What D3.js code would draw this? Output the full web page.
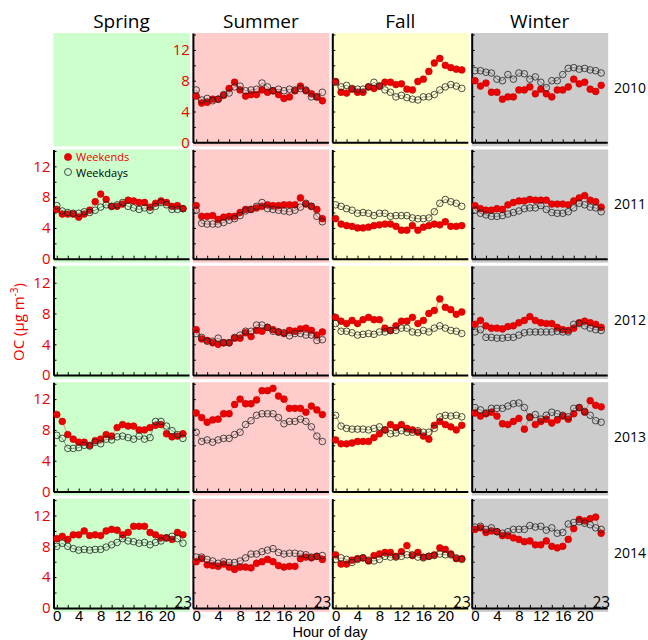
<!DOCTYPE html>
<html><head><meta charset="utf-8">
<script src="https://cdn.jsdelivr.net/npm/d3@7/dist/d3.min.js"></script>
<style>body{margin:0;background:#fff}</style>
</head><body><svg id="c" width="648" height="640"></svg>
<script>
const seasons = ["Spring","Summer","Fall","Winter"];
const years = ["2010","2011","2012","2013","2014"];
const hours = [0,1,2,3,4,5,6,7,8,9,10,11,12,13,14,15,16,17,18,19,20,21,22,23];
const yTickValues = [0,2,4,6,8,10,12,14];
const yTickLabels = [0,4,8,12];
const xTickValues = [0,2,4,6,8,10,12,14,16,18,20,22];
const xTickLabels = [0,4,8,12,16,20];
const seasonFill = ["#ccffcc","#ffcccc","#ffffcc","#cccccc"];

// 2010
const wkndSummer2010 = [6.0,5.1,5.2,5.6,5.6,6.1,7.0,7.8,6.8,6.0,6.2,6.2,6.8,6.5,6.7,6.2,5.7,5.9,6.7,7.3,6.7,6.3,5.9,5.4];
const wkdySummer2010 = [6.8,5.5,5.7,5.4,5.6,6.2,6.4,7.2,7.3,6.7,6.8,6.9,7.7,7.2,6.7,6.9,6.7,6.9,6.8,7.0,6.8,5.9,5.9,6.5];
const wkndFall2010 = [7.9,6.5,6.4,6.9,6.5,6.5,7.2,7.0,7.3,7.8,7.8,7.5,7.6,6.9,6.8,7.9,8.2,9.2,10.3,10.9,10.0,9.7,9.5,9.4];
const wkdyFall2010 = [7.8,7.2,7.4,7.0,6.9,6.9,7.2,7.8,7.3,6.8,6.5,5.9,6.1,5.8,5.6,5.5,5.9,5.9,6.2,6.8,7.2,7.5,7.3,7.0];
const wkndWinter2010 = [8.0,7.3,7.7,6.5,6.5,5.6,5.9,5.9,6.8,6.8,7.2,6.3,6.9,6.3,5.9,6.8,6.8,7.2,8.2,7.6,7.8,6.9,6.6,7.4];
const wkdyWinter2010 = [9.3,9.3,9.1,9.0,8.2,8.0,8.8,8.2,9.0,8.9,8.2,8.5,7.8,7.1,8.0,8.0,8.8,9.6,9.7,9.5,9.6,9.4,9.3,9.0];
// 2011
const wkndSpring2011 = [6.4,5.8,5.8,5.8,5.4,5.8,6.3,7.4,8.4,7.7,6.8,6.8,7.1,7.6,7.5,7.3,7.3,6.7,7.2,7.5,7.3,6.8,6.9,6.5];
const wkdySpring2011 = [6.9,6.2,6.0,5.9,5.9,6.1,6.0,6.3,6.7,7.0,6.8,7.0,7.3,6.8,6.6,6.4,6.6,6.3,6.8,7.3,7.0,6.4,6.4,6.5];
const wkndSummer2011 = [6.9,5.5,5.5,5.6,5.1,5.4,5.5,5.5,6.0,6.4,6.4,6.6,6.8,7.0,6.9,6.9,7.0,7.0,7.0,7.9,7.1,6.8,6.4,5.2];
const wkdySummer2011 = [6.3,4.6,4.5,4.5,4.5,4.7,5.0,5.2,5.6,6.2,6.4,6.8,7.3,6.5,6.4,6.3,6.2,6.1,6.3,6.7,7.2,6.8,5.5,4.8];
const wkndFall2011 = [5.2,4.5,4.3,4.2,4.0,4.0,4.1,4.3,4.4,4.5,4.5,4.2,3.7,3.7,4.3,3.7,4.1,4.3,4.5,4.4,4.8,4.2,4.2,4.3];
const wkdyFall2011 = [7.0,6.8,6.5,6.3,5.9,6.0,5.9,5.6,5.9,5.9,5.5,5.6,5.6,5.6,5.3,5.2,5.2,5.3,6.1,7.2,7.7,7.4,7.2,6.8];
const wkndWinter2011 = [6.9,6.5,6.3,6.3,6.5,6.4,7.0,7.3,7.5,7.5,7.7,7.6,7.6,7.6,7.1,7.1,7.1,7.0,7.5,7.9,8.2,7.6,7.4,6.7];
const wkdyWinter2011 = [6.3,5.9,5.7,5.5,5.5,5.6,5.8,6.0,6.2,6.5,6.6,6.6,6.9,6.4,6.0,5.9,5.9,6.1,6.6,7.2,7.0,6.7,6.6,6.1];
// 2012
const wkndSummer2012 = [5.9,4.7,4.5,4.2,4.0,4.2,4.2,4.8,4.8,5.5,5.0,5.8,5.7,6.2,5.9,5.6,5.4,5.8,5.7,6.0,6.1,5.8,5.2,5.6];
const wkdySummer2012 = [5.4,4.9,4.4,4.4,4.8,4.2,4.2,4.9,5.2,5.7,5.7,6.5,6.5,6.2,5.7,5.6,5.5,5.1,5.4,5.4,5.2,5.2,4.5,4.6];
const wkndFall2012 = [7.5,7.0,6.7,7.1,6.7,7.2,7.5,7.2,7.2,6.1,5.8,6.4,7.0,7.0,7.5,6.7,7.1,8.0,8.4,9.9,8.8,8.5,7.9,8.2];
const wkdyFall2012 = [6.7,5.7,5.7,5.5,5.2,5.3,5.4,5.3,5.6,5.6,5.8,5.8,6.1,6.1,5.6,5.5,5.8,5.6,6.1,6.4,6.1,5.8,5.7,5.4];
const wkndWinter2012 = [6.6,7.1,6.4,6.1,6.1,6.0,6.3,6.4,6.8,7.1,7.6,7.1,6.8,6.7,6.7,6.2,5.9,5.8,6.1,6.8,7.0,6.8,6.6,6.2];
const wkdyWinter2012 = [5.6,5.9,4.9,4.9,4.8,4.8,4.9,4.9,5.2,5.5,5.6,5.6,5.6,5.6,5.6,5.7,5.6,5.6,6.6,6.7,6.4,6.1,5.9,5.8];
// 2013
const wkndSpring2013 = [10.0,9.1,7.4,6.8,6.4,6.4,6.0,6.6,6.8,7.4,7.2,8.3,8.7,8.5,8.5,8.0,8.0,8.3,8.6,8.7,7.5,7.1,7.2,7.5];
const wkdySpring2013 = [7.3,6.9,5.6,5.6,5.7,6.0,5.9,6.4,6.2,6.8,6.7,7.1,7.2,7.0,6.8,7.2,6.8,7.0,9.1,9.1,8.5,7.9,7.4,6.9];
const wkndSummer2013 = [10.2,9.6,9.0,9.3,9.4,10.1,10.1,11.3,12.0,11.4,11.4,11.9,13.1,13.1,13.4,12.4,12.0,10.8,10.8,10.8,10.3,11.1,10.6,10.0];
const wkdySummer2013 = [7.7,6.5,6.7,6.4,6.7,6.9,6.9,7.4,7.7,8.7,9.2,9.9,10.1,10.1,10.1,9.6,8.8,9.1,9.1,9.4,9.1,8.4,7.2,6.5];
const wkndFall2013 = [6.7,6.2,6.2,6.3,6.5,6.5,6.5,7.0,7.5,8.0,8.7,8.3,8.7,8.2,8.0,7.7,7.2,6.8,8.6,9.1,8.7,8.4,8.0,8.6];
const wkdyFall2013 = [9.9,8.5,8.2,8.1,8.1,8.1,8.0,8.2,8.4,8.0,7.5,7.6,7.9,7.7,7.7,7.9,7.7,7.7,8.2,9.7,9.9,9.8,9.9,9.7];
const wkndWinter2013 = [10.2,9.8,10.1,10.3,9.8,8.8,8.7,9.1,9.5,8.1,9.7,8.7,9.1,9.4,8.9,9.3,9.8,9.4,10.1,10.9,10.3,11.8,11.2,11.0];
const wkdyWinter2013 = [10.9,10.6,10.2,10.8,10.8,10.8,11.1,11.4,11.5,10.9,9.6,10.0,9.4,9.9,10.3,10.1,9.9,9.7,10.8,10.9,10.4,9.9,9.2,9.0];
// 2014
const wkndSpring2014 = [9.0,9.3,8.9,9.5,9.5,10.0,9.4,9.5,9.4,10.0,10.2,10.1,9.5,9.8,10.6,10.6,10.6,9.8,9.5,9.1,9.1,8.9,9.8,9.5];
const wkdySpring2014 = [8.0,8.4,8.0,7.7,7.5,7.6,7.5,7.6,7.6,7.9,8.2,8.5,9.0,8.7,8.6,8.4,8.5,8.2,8.5,8.7,9.1,9.3,9.0,8.4];
const wkndSummer2014 = [6.0,6.4,5.6,5.5,5.4,5.7,5.3,5.0,5.3,5.3,5.2,5.8,6.0,6.3,6.0,5.5,5.3,5.4,5.4,6.4,6.6,6.5,6.7,6.3];
const wkdySummer2014 = [6.6,6.6,6.3,6.1,5.8,6.0,5.9,5.9,6.1,6.5,7.0,7.0,7.3,7.5,7.7,7.2,7.0,7.1,7.1,7.0,6.9,6.6,6.7,6.8];
const wkndFall2014 = [6.9,5.7,5.7,6.2,6.4,6.5,6.1,6.8,7.0,7.2,7.2,6.7,7.3,8.1,6.8,7.2,6.6,6.7,6.9,7.8,7.6,7.0,6.4,6.4];
const wkdyFall2014 = [6.3,6.5,6.3,5.9,6.3,6.5,6.2,6.1,6.3,6.7,6.6,6.6,6.7,6.9,6.9,6.6,6.5,6.7,6.8,7.0,6.9,6.9,6.5,6.3];
const wkndWinter2014 = [10.2,10.4,9.8,10.0,9.9,9.4,9.4,9.1,8.9,8.6,8.7,8.2,8.2,8.7,8.0,7.8,8.0,8.9,10.3,11.5,11.3,11.6,11.8,9.7];
const wkdyWinter2014 = [10.5,10.6,10.2,10.4,9.9,9.7,9.9,10.2,10.2,10.2,10.7,10.5,10.6,10.1,10.4,9.7,9.8,10.9,11.1,11.2,11.0,10.8,10.4,10.2];

// panel table: [seasonIndex, yearIndex, weekends, weekdays, showAxes]
const panels = [
  [0,0,null,null,false],
  [1,0,wkndSummer2010,wkdySummer2010,true],
  [2,0,wkndFall2010,wkdyFall2010,true],
  [3,0,wkndWinter2010,wkdyWinter2010,true],
  [0,1,wkndSpring2011,wkdySpring2011,true],
  [1,1,wkndSummer2011,wkdySummer2011,true],
  [2,1,wkndFall2011,wkdyFall2011,true],
  [3,1,wkndWinter2011,wkdyWinter2011,true],
  [0,2,null,null,true],
  [1,2,wkndSummer2012,wkdySummer2012,true],
  [2,2,wkndFall2012,wkdyFall2012,true],
  [3,2,wkndWinter2012,wkdyWinter2012,true],
  [0,3,wkndSpring2013,wkdySpring2013,true],
  [1,3,wkndSummer2013,wkdySummer2013,true],
  [2,3,wkndFall2013,wkdyFall2013,true],
  [3,3,wkndWinter2013,wkdyWinter2013,true],
  [0,4,wkndSpring2014,wkdySpring2014,true],
  [1,4,wkndSummer2014,wkdySummer2014,true],
  [2,4,wkndFall2014,wkdyFall2014,true],
  [3,4,wkndWinter2014,wkdyWinter2014,true]
];

const FONT = "'Open Sans', 'Noto Sans', sans-serif";
const FONT2 = "'Liberation Sans', Arial, sans-serif";
const RED = "#ee0000";
const colLeft = c => 53.5 + 139.4 * c;
const rowBottom = r => 142.3 + 116.4 * r;
const PW = 136.5, PH = 109.3;

const svg = d3.select("#c").style("font-family", FONT);
const x = d3.scaleLinear().domain([-0.6, 24.1]).range([0, 135.5]);
const y = d3.scaleLinear().domain([0, 14.2]).range([PH, 0]);

// backgrounds
panels.forEach(([c, r]) => {
  svg.append("rect")
    .attr("x", colLeft(c)).attr("y", rowBottom(r) - PH)
    .attr("width", PW).attr("height", PH + 4)
    .attr("fill", seasonFill[c]);
});

const line = d3.line().x((d, i) => x(hours[i])).y(d => y(d));

panels.forEach(([c, r, wknd, wkdy, showAxes]) => {
  const g = svg.append("g").attr("transform", `translate(${colLeft(c)},${rowBottom(r) - PH})`);
  if (showAxes) {
    const labelY = (r === 0 && c === 1) || (r > 0 && c === 0);
    const ya = d3.axisLeft(y).tickValues(yTickValues).tickSize(-3).tickSizeOuter(0).tickPadding(3)
      .tickFormat(d => labelY && yTickLabels.includes(d) ? d : "");
    const yg = g.append("g").call(ya);
    yg.select(".domain").attr("stroke", "#000").attr("stroke-width", 2);
    yg.selectAll(".tick line").attr("stroke", "#000").attr("stroke-width", 1);
    yg.selectAll("text").attr("fill", RED).attr("font-size", 15).attr("font-family", FONT);

    const labelX = r === 4;
    const xa = d3.axisBottom(x).tickValues(xTickValues).tickSize(-3).tickSizeOuter(0).tickPadding(2)
      .tickFormat(d => labelX && xTickLabels.includes(d) ? d : "");
    const xg = g.append("g").attr("transform", `translate(0,${PH})`).call(xa);
    xg.select(".domain").attr("stroke", "#000").attr("stroke-width", 2);
    xg.selectAll(".tick line").attr("stroke", "#000").attr("stroke-width", 1);
    xg.selectAll("text").attr("fill", "#000").attr("font-size", 15).attr("font-family", FONT2);
    if (labelX) {
      g.append("text").attr("x", 138.5).attr("y", PH + 0.5).attr("text-anchor", "end")
        .attr("font-size", 15.5).attr("fill", "#000").text("23");
    }
  }
  if (wknd) {
    g.append("path").datum(wknd).attr("d", line).attr("fill", "none")
      .attr("stroke", "#ff5050").attr("stroke-width", 0.7);
    g.selectAll("circle.we").data(wknd).enter().append("circle").attr("class", "we")
      .attr("cx", (d, i) => x(hours[i])).attr("cy", d => y(d)).attr("r", 3.4)
      .attr("fill", RED).attr("stroke", "#c00000").attr("stroke-width", 0.6);
  }
  if (wkdy) {
    g.append("path").datum(wkdy).attr("d", line).attr("fill", "none")
      .attr("stroke", "#555").attr("stroke-width", 0.6);
    g.selectAll("circle.wd").data(wkdy).enter().append("circle").attr("class", "wd")
      .attr("cx", (d, i) => x(hours[i])).attr("cy", d => y(d)).attr("r", 3.3)
      .attr("fill", "none").attr("stroke", "#222").attr("stroke-width", 0.8);
  }
});

// season titles
seasons.forEach((s, c) => {
  svg.append("text").attr("x", colLeft(c) + 68).attr("y", 28).attr("text-anchor", "middle")
    .attr("font-size", 19).attr("font-weight", 500).attr("fill", "#000").text(s);
});
// year labels
years.forEach((yr, r) => {
  svg.append("text").attr("x", 614).attr("y", rowBottom(r) - PH / 2 + 5)
    .attr("font-size", 14).attr("fill", "#000").text(yr);
});

// legend (Spring 2011 panel)
const lg = svg.append("g");
lg.append("circle").attr("cx", 68).attr("cy", 157).attr("r", 3.6).attr("fill", RED).attr("stroke", "#c00000").attr("stroke-width", 0.6);
lg.append("text").attr("x", 76).attr("y", 161).attr("font-size", 11).attr("fill", RED).text("Weekends");
lg.append("circle").attr("cx", 68).attr("cy", 172).attr("r", 3.5).attr("fill", "none").attr("stroke", "#222").attr("stroke-width", 0.8);
lg.append("text").attr("x", 76).attr("y", 176.5).attr("font-size", 11).attr("fill", "#000").text("Weekdays");

// axis titles
svg.append("text").attr("x", 330).attr("y", 636.5).attr("text-anchor", "middle")
  .attr("font-family", FONT2).attr("font-size", 14.5).attr("fill", "#000").text("Hour of day");
const oc = svg.append("text").attr("transform", "translate(24,322) rotate(-90)")
  .attr("text-anchor", "middle").attr("font-size", 15).attr("fill", RED);
oc.append("tspan").text("OC (\u03bcg m");
oc.append("tspan").attr("font-size", 10).attr("dy", -6).text("-3");
oc.append("tspan").attr("dy", 6).text(")");
</script>
</body></html>
